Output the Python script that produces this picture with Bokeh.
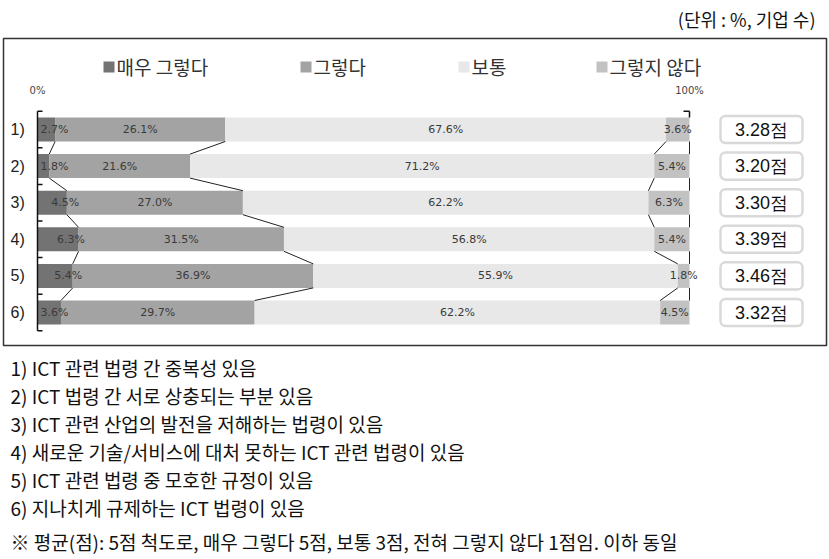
from bokeh.plotting import figure
from bokeh.models import Range1d, BoxAnnotation
from bokeh.core.properties import value
from bokeh.embed import file_html
from bokeh.resources import INLINE

# ---------------- data ----------------
rows = ["1)", "2)", "3)", "4)", "5)", "6)"]
series_names = ["매우 그렇다", "그렇다", "보통", "그렇지 않다"]
very_agree = [2.7, 1.8, 4.5, 6.3, 5.4, 3.6]
agree = [26.1, 21.6, 27.0, 31.5, 36.9, 29.7]
neutral = [67.6, 71.2, 62.2, 56.8, 55.9, 62.2]
disagree = [3.6, 5.4, 6.3, 5.4, 1.8, 4.5]
scores = [3.28, 3.20, 3.30, 3.39, 3.46, 3.32]
x_ticks = [0, 100]
x_tick_labels = ["0%", "100%"]
unit_label = "(단위 : %, 기업 수)"
notes = [
    "1) ICT 관련 법령 간 중복성 있음",
    "2) ICT 법령 간 서로 상충되는 부분 있음",
    "3) ICT 관련 산업의 발전을 저해하는 법령이 있음",
    "4) 새로운 기술/서비스에 대처 못하는 ICT 관련 법령이 있음",
    "5) ICT 관련 법령 중 모호한 규정이 있음",
    "6) 지나치게 규제하는 ICT 법령이 있음",
]
footnote = "※ 평균(점): 5점 척도로, 매우 그렇다 5점, 보통 3점, 전혀 그렇지 않다 1점임. 이하 동일"

# ---------------- style / layout ----------------
colors = ["#737373", "#a3a3a3", "#e8e8e8", "#c2c2c2"]
W, H = 829, 559
X0_PX, X100_PX = 37, 689
ROW1_PX, ROW_STEP = 129, 36.6
BAR_H = 24 / ROW_STEP
KFONT = "Noto Sans CJK KR"


def X(px):
    return (px - X0_PX) * 100.0 / (X100_PX - X0_PX)


def Y(py):
    return 1 + (py - ROW1_PX) / ROW_STEP


p = figure(width=W, height=H, x_range=Range1d(X(0), X(W)), y_range=Range1d(Y(H), Y(0)),
           output_backend="svg", toolbar_location=None, min_border=0,
           x_axis_location=None, y_axis_location=None, outline_line_color=None)
p.grid.visible = False
p.background_fill_color = "white"
p.border_fill_color = "white"

ys = list(range(1, len(rows) + 1))
series = [very_agree, agree, neutral, disagree]

# outer frame
p.quad(left=[X(3)], right=[X(826)], top=[Y(38)], bottom=[Y(345)],
       fill_color=None, line_color="#333333", line_width=1.5)

# stacked bars
cum = [[0.0] * len(rows)]
for k, vals in enumerate(series):
    left = cum[-1]
    right = [a + b for a, b in zip(left, vals)]
    p.hbar(y=ys, left=left, right=right, height=BAR_H, fill_color=colors[k], line_color=None)
    cum.append(right)

# series lines between bars
for k in range(1, 5):
    c = cum[k]
    p.segment(x0=c[:-1], y0=[y + BAR_H / 2 for y in ys[:-1]],
              x1=c[1:], y1=[y - BAR_H / 2 for y in ys[1:]],
              line_color="#222222", line_width=1)

# left category axis
bounds = [y - 0.5 for y in ys] + [ys[-1] + 0.5]
p.segment(x0=[0], y0=[bounds[0]], x1=[0], y1=[bounds[-1]], line_color="#111111", line_width=1.5)
p.segment(x0=[0] * len(bounds), y0=bounds, x1=[X(X0_PX + 5)] * len(bounds), y1=bounds,
          line_color="#111111", line_width=1.5)
# top-right bracket at 100%
p.segment(x0=[100, X(X100_PX - 6)], y0=[bounds[0], bounds[0]],
          x1=[100, 100], y1=[ys[0] - BAR_H / 2, bounds[0]], line_color="#111111", line_width=1.5)

# category labels
p.text(x=[X(10)] * len(rows), y=ys, text=rows, text_align="left", text_baseline="middle",
       text_font=value("Liberation Sans"), text_font_size=value("16px"), text_color="#222222")

# 0% / 100%
p.text(x=x_ticks, y=[Y(90)] * 2, text=x_tick_labels, text_align="center", text_baseline="middle",
       text_font=value("DejaVu Sans"), text_font_size=value("10px"), text_color="#444444")

# data labels
lab_font = dict(text_align="center", text_baseline="middle", text_font=value("DejaVu Sans"),
                text_font_size=value("11px"), text_color="#3a3a3a")
first_x = [v / 2 + 2 if v >= 4 else 2.6 for v in very_agree]
p.text(x=first_x, y=ys, text=[f"{v:.1f}%" for v in very_agree], **lab_font)
for k in range(1, 4):
    xs = [(a + b) / 2 for a, b in zip(cum[k], cum[k + 1])]
    p.text(x=xs, y=ys, text=[f"{v:.1f}%" for v in series[k]], **lab_font)

# score boxes
for y in ys:
    p.add_layout(BoxAnnotation(left=X(720), right=X(802), top=y - 0.37, bottom=y + 0.37,
                               fill_color="white", fill_alpha=1.0, line_color="#808080",
                               line_width=2.5, border_radius=5, level="underlay"))
p.text(x=[X(761)] * len(ys), y=ys, text=[f"{s:.2f}점" for s in scores], text_align="center",
       text_baseline="middle", text_font=value("Liberation Sans"), text_font_size=value("18px"),
       text_color="#111111")

# legend
leg_px = [103, 300, 458, 596]
p.quad(left=[X(px) for px in leg_px], right=[X(px + 11) for px in leg_px],
       top=[Y(61)] * 4, bottom=[Y(72)] * 4, fill_color=colors, line_color=None)
p.text(x=[X(px + 13) for px in leg_px], y=[Y(66)] * 4, text=series_names, text_align="left",
       text_baseline="middle", text_font=value(KFONT), text_font_size=value("19px"),
       text_color="#333333")

# unit label
p.text(x=[X(815)], y=[Y(18)], text=[unit_label], text_align="right", text_baseline="middle",
       text_font=value(KFONT), text_font_size=value("18px"), text_color="#111111")

# notes
note_py = [367, 395, 423, 451, 479, 507]
p.text(x=[X(10)] * len(notes), y=[Y(py) for py in note_py], text=notes, text_align="left",
       text_baseline="middle", text_font=value(KFONT), text_font_size=value("19px"),
       text_color="#111111")
p.text(x=[X(10)], y=[Y(541)], text=[footnote], text_align="left", text_baseline="middle",
       text_font=value(KFONT), text_font_size=value("19px"), text_color="#111111")

open("out.html", "w").write(file_html(p, INLINE))
